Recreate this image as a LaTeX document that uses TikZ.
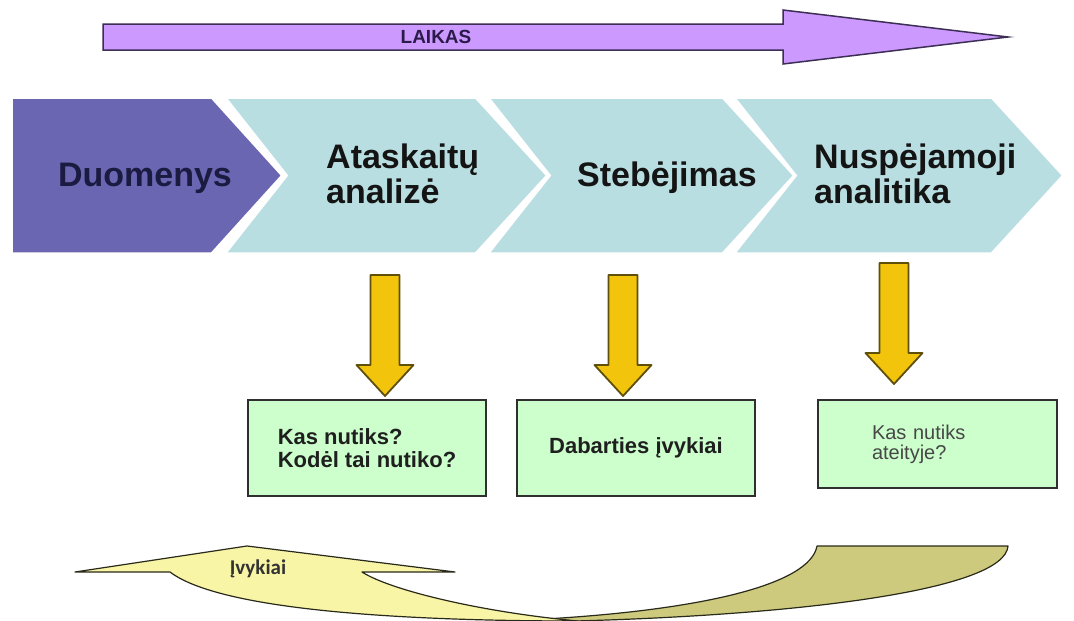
\documentclass[tikz,border=0pt]{standalone}
\usepackage{fontspec}
\setmainfont{Liberation Sans}
\newfontfamily\calibri{Carlito}
\definecolor{timefill}{HTML}{CC99FF}
\definecolor{timeline}{HTML}{3D2E55}
\definecolor{timetext}{HTML}{2B1B4A}
\definecolor{datafill}{HTML}{6B66B2}
\definecolor{datatext}{HTML}{1B1A40}
\definecolor{stagefill}{HTML}{B9DEE1}
\definecolor{goldfill}{HTML}{F2C40C}
\definecolor{goldline}{HTML}{5E4F0A}
\definecolor{boxfill}{HTML}{CCFFCC}
\definecolor{boxline}{HTML}{2F2F2F}
\definecolor{ribbonfront}{HTML}{F9F5A6}
\definecolor{ribbonback}{HTML}{CDCA7E}
\definecolor{ribbonline}{HTML}{2A2A1A}
\begin{document}
\begin{tikzpicture}[x=1pt,y=-1pt,
  timearrow/.style={fill=timefill,draw=timeline,line width=1.5pt,line join=miter},
  chevron/.style={fill=stagefill,draw=white,line width=3.5pt,line join=miter},
  chevtext/.style={font=\fontsize{34}{35}\selectfont\bfseries,text=black!92,align=left,inner sep=0pt},
  blockarrow/.style={fill=goldfill,draw=goldline,line width=1.8pt,line join=round},
  resultbox/.style={fill=boxfill,draw=boxline,line width=1.5pt,inner sep=0pt,align=left,
    minimum width=238pt,minimum height=96pt,text=black!88,
    font=\fontsize{22}{23}\selectfont\bfseries},
  ribbon/.style={draw=ribbonline,line width=1.2pt,line join=round},
  downblock/.pic={\path[blockarrow] (-14.5,0) -- (14.5,0) -- (14.5,90) -- (28.5,90)
     -- (0,121) -- (-28.5,90) -- (-14.5,90) -- cycle;}
]
\useasboundingbox (0,0) rectangle (1074,621);
\fill[white] (0,0) rectangle (1074,621);

% time arrow across the top
\path[timearrow] (103,24) -- (783,24) -- (783,10) -- (1008,37) -- (783,64)
  -- (783,50) -- (103,50) -- cycle;
\node[font=\fontsize{19}{20}\selectfont\bfseries,text=timetext,inner sep=0pt] (laikas) at (436,37) {LAIKAS};

% process chevrons
\path[chevron,fill=datafill] (11,97) -- (212,97) -- (283,175.5) -- (212,254) -- (11,254) -- cycle;
\path[chevron] (224,97) -- (476,97) -- (548,175.5) -- (476,254) -- (224,254) -- (286,175.5) -- cycle;
\path[chevron] (487,97) -- (723,97) -- (795,175.5) -- (723,254) -- (487,254) -- (549,175.5) -- cycle;
\path[chevron] (733,97) -- (992,97) -- (1064,175.5) -- (992,254) -- (733,254) -- (795,175.5) -- cycle;

\node[chevtext,text=datatext] (duom) at (145,178) {Duomenys};
\node[chevtext,anchor=west] (atask) at (326,174) {Ataskaitų\\analizė};
\node[chevtext,anchor=west] (steb) at (577,178) {Stebėjimas};
\node[chevtext,anchor=west] (nusp) at (814,174) {Nuspėjamoji\\analitika};

% downward block arrows
\pic at (385,275) {downblock};
\pic at (623,275) {downblock};
\pic at (894,263) {downblock};

% result boxes
\node[resultbox] (past) at (367,448) {Kas nutiks?\\Kodėl tai nutiko?};
\node[resultbox] (now) at (636,448) {Dabarties įvykiai};
\node[resultbox,minimum width=239pt,minimum height=88pt,text width=131pt,inner xsep=54pt,
  text=black!72,font=\fontsize{20}{20}\selectfont] (future) at (937.5,444) {Kas nutiks\\ateityje?};

% curved return arrow
\path[ribbon,fill=ribbonback] (817,546) -- (1008,546) .. controls (1005,590) and (800,615) .. (575,621)
  -- (545,619) .. controls (700,610) and (810,585) .. (817,546) -- cycle;
\path[ribbon,fill=ribbonfront] (75,572) -- (247,546) -- (455,572) -- (362,572)
  .. controls (390,590) and (480,612) .. (578,621)
  .. controls (400,621) and (220,610) .. (170,572) -- cycle;
\node[font=\calibri\fontsize{21}{21}\selectfont\bfseries,text=black!80,inner sep=0pt] (events) at (258,569) {Įvykiai};
\end{tikzpicture}
\end{document}
